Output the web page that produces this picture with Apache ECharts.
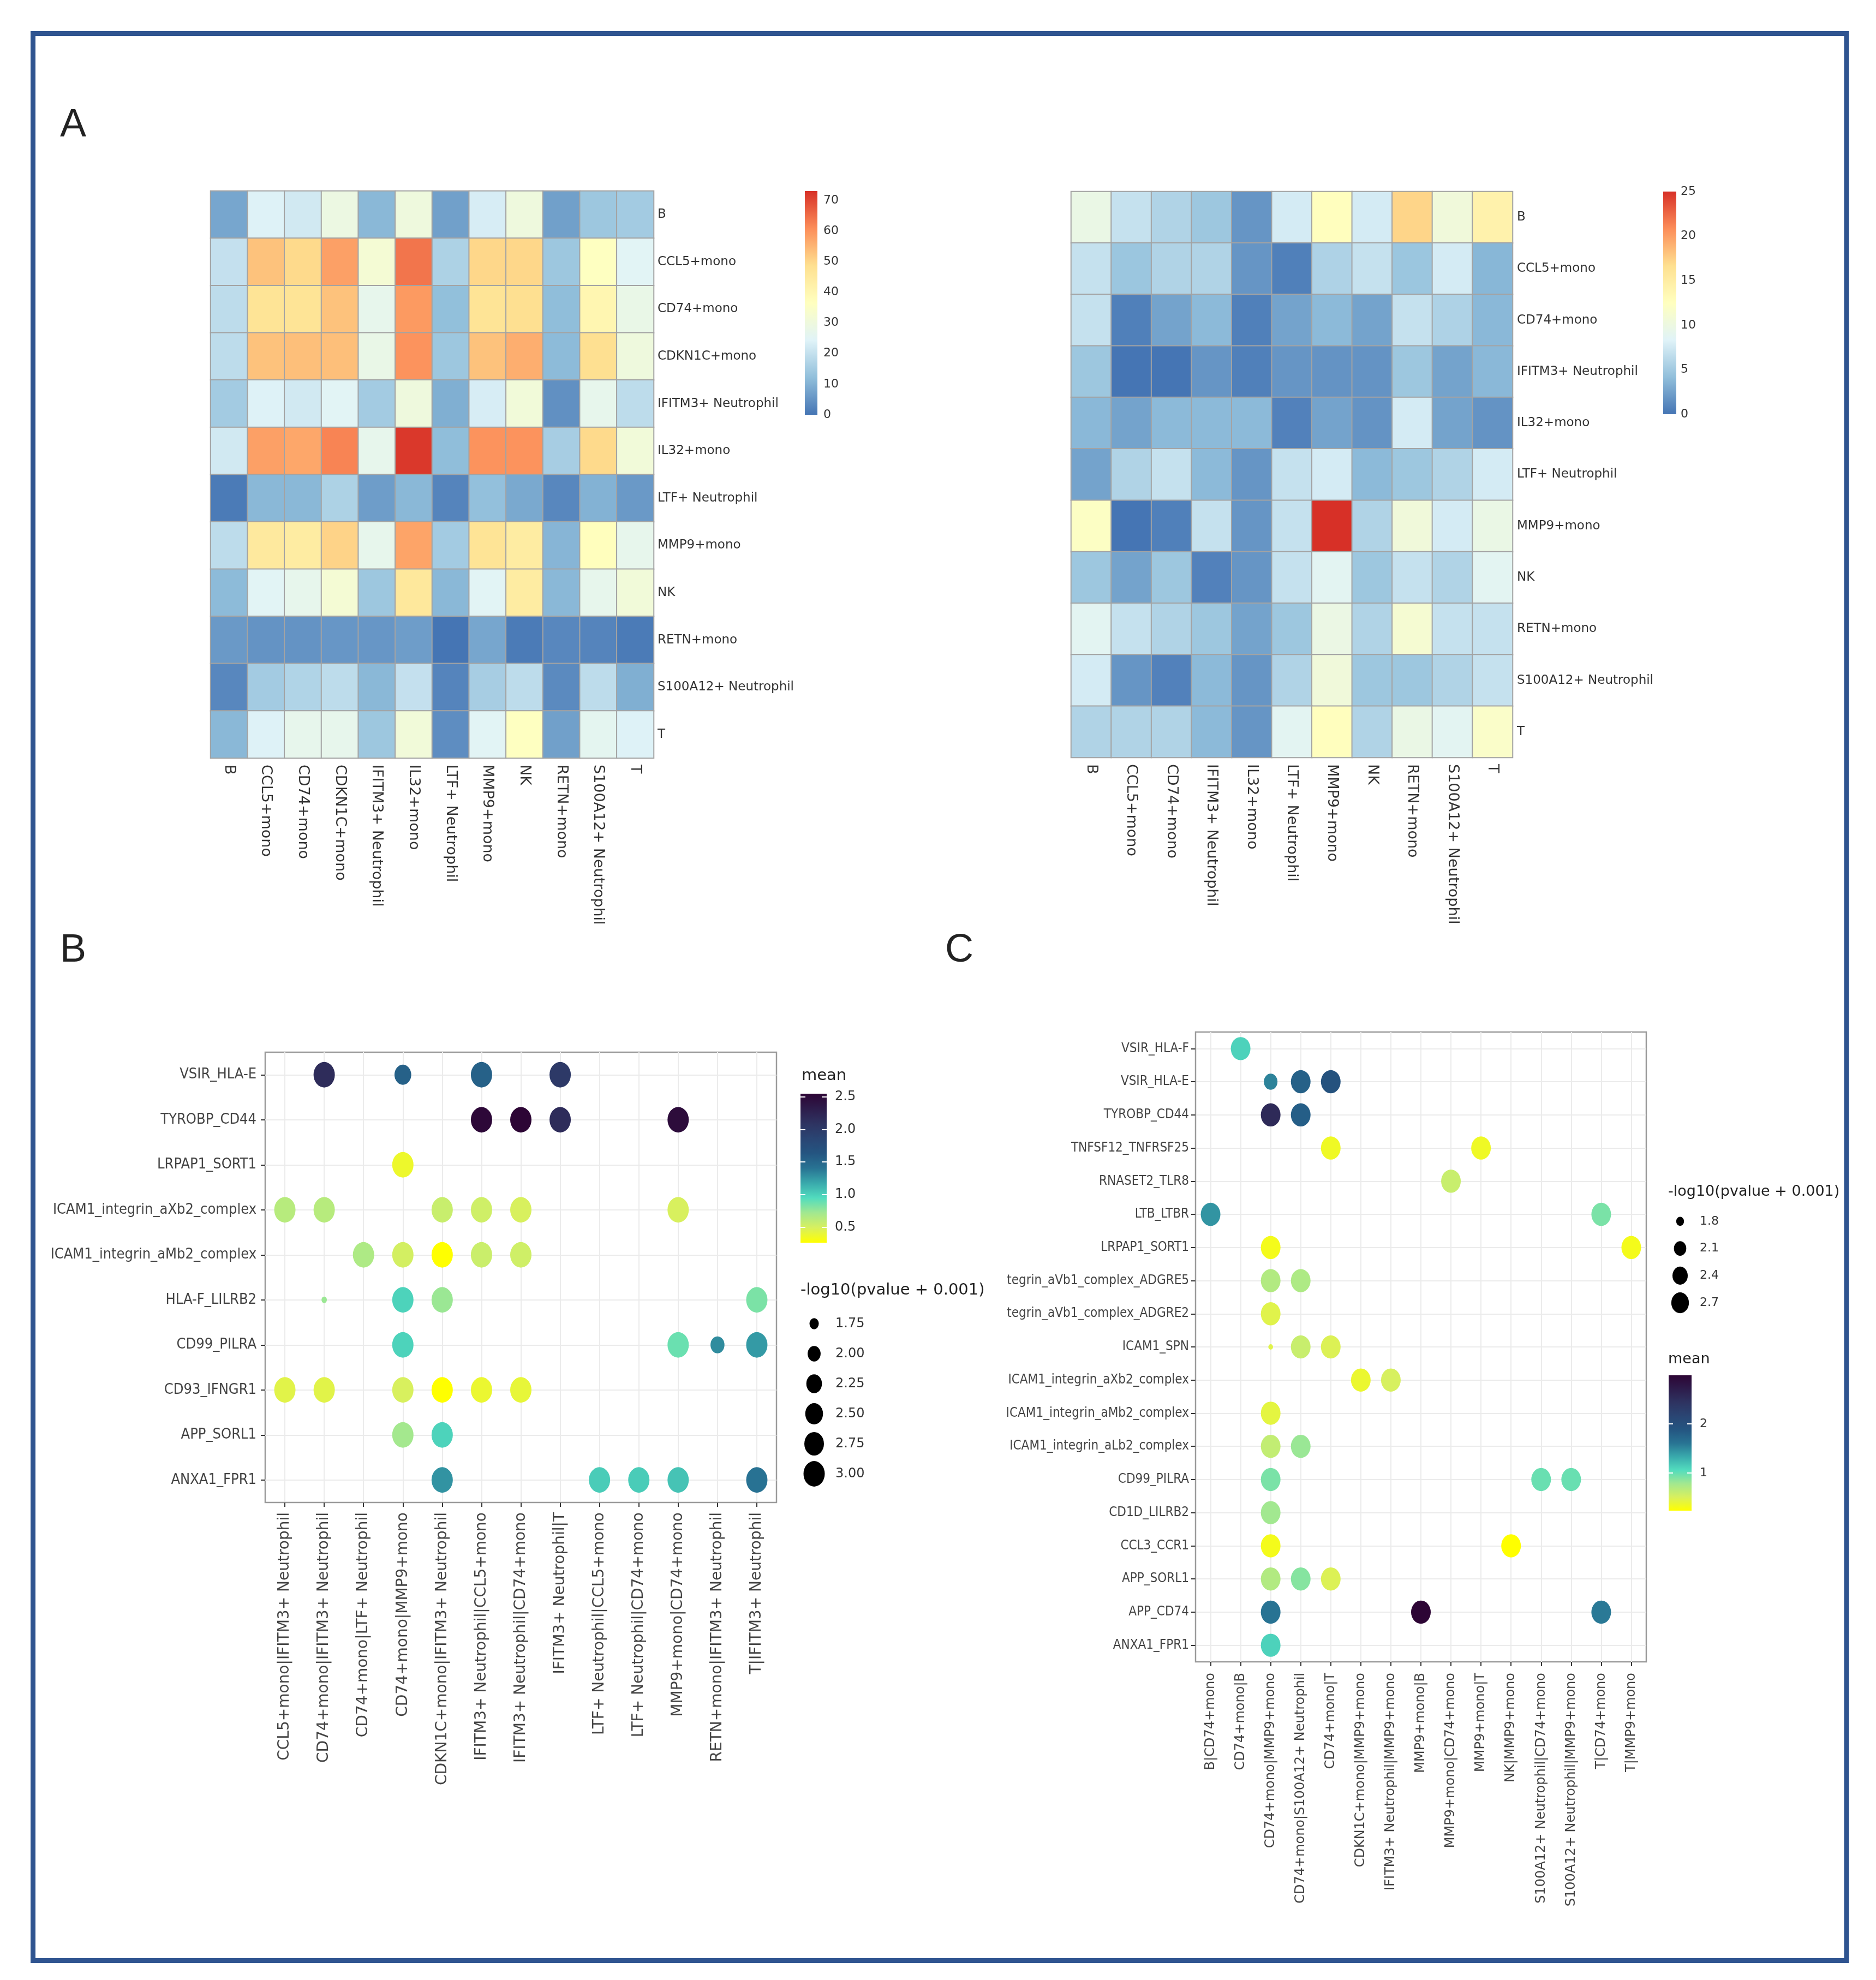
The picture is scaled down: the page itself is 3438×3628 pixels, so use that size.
<!DOCTYPE html>
<html>
<head>
<meta charset="utf-8">
<title>Cell communication</title>
<script src="https://cdn.jsdelivr.net/npm/echarts@6.0.0/dist/echarts.min.js"></script>
<style>
  html, body { margin: 0; padding: 0; background: #fff; }
  #main { width: 3438px; height: 3628px; }
</style>
</head>
<body>
<div id="main"></div>
<script>
// A, left heatmap: number of interactions (rows = source, columns = target)
const hm1Labels = ['B', 'CCL5+mono', 'CD74+mono', 'CDKN1C+mono', 'IFITM3+ Neutrophil', 'IL32+mono',
  'LTF+ Neutrophil', 'MMP9+mono', 'NK', 'RETN+mono', 'S100A12+ Neutrophil', 'T']
const hm1Values = [
  [8, 24, 22, 29, 11, 30, 7, 23, 30, 7, 14, 15],
  [20, 53, 49.5, 58, 32, 64, 16.5, 50, 50, 14, 36, 25],
  [19, 47, 47, 53, 27, 59, 12.3, 47, 48.5, 12, 40, 28],
  [19, 53, 53.5, 53.5, 28, 60, 14, 53, 56, 11.5, 48.5, 30],
  [15, 24, 22, 25, 15, 30, 9.5, 23, 31, 4.5, 27, 19],
  [22, 58, 57, 62, 27, 72, 12, 60, 60, 15.5, 49.5, 31],
  [1, 11, 11, 16.5, 6.5, 11, 2.5, 12.5, 8.5, 3, 10, 6],
  [19, 45, 44, 50.5, 27, 57.5, 15, 47, 44, 10.5, 37, 27],
  [11.5, 25, 27, 32, 14, 45.5, 11, 25, 44, 11, 27, 31],
  [6, 5, 5, 5.5, 5.5, 6.5, 0, 8, 1, 3, 2.5, 1],
  [3, 15, 17, 19, 11, 20, 2.5, 15.5, 19, 3.5, 19, 9.5],
  [11, 24, 27, 27, 14, 31, 4, 25, 36, 7, 26, 24]
]
const hm1Range = [0, 73]
const hm1Ticks = [0, 10, 20, 30, 40, 50, 60, 70]

// A, right heatmap
const hm2Labels = ['B', 'CCL5+mono', 'CD74+mono', 'IFITM3+ Neutrophil', 'IL32+mono', 'LTF+ Neutrophil',
  'MMP9+mono', 'NK', 'RETN+mono', 'S100A12+ Neutrophil', 'T']
const hm2Values = [
  [9.7, 6.9, 5.8, 4.8, 1.8, 7.7, 12.6, 7.7, 17.2, 10.5, 14.2],
  [6.9, 4.7, 5.8, 5.8, 1.8, 0.6, 5.7, 6.9, 4.7, 7.7, 3.7],
  [6.9, 0.6, 2.6, 3.9, 0.6, 2.6, 3.9, 2.6, 6.9, 5.7, 3.8],
  [4.8, 0, 0, 1.8, 0.6, 1.8, 1.7, 1.7, 4.8, 2.6, 3.8],
  [3.8, 2.6, 3.9, 3.9, 3.9, 0.7, 2.6, 1.7, 7.7, 2.6, 1.7],
  [2.6, 5.8, 6.9, 3.9, 1.8, 6.9, 7.7, 3.9, 4.8, 5.8, 7.7],
  [12.1, 0, 0.6, 6.9, 1.8, 6.9, 25, 5.8, 10.5, 7.7, 9.7],
  [4.8, 2.6, 4.8, 0.7, 1.8, 6.9, 8.8, 4.8, 6.9, 5.8, 8.8],
  [8.8, 6.9, 5.8, 4.8, 2.6, 4.8, 9.8, 5.8, 11.1, 6.9, 6.9],
  [7.7, 1.8, 0.7, 3.9, 1.8, 5.8, 10.5, 4.8, 4.8, 5.8, 6.9],
  [5.8, 5.8, 5.8, 3.9, 1.8, 8.8, 12.6, 5.8, 9.7, 8.8, 11.8]
]
const hm2Range = [0, 25]
const hm2Ticks = [0, 5, 10, 15, 20, 25]

// B dot plot: [column index, row index, mean, -log10(pvalue + 0.001)]
const bCols = ['CCL5+mono|IFITM3+ Neutrophil', 'CD74+mono|IFITM3+ Neutrophil', 'CD74+mono|LTF+ Neutrophil',
  'CD74+mono|MMP9+mono', 'CDKN1C+mono|IFITM3+ Neutrophil', 'IFITM3+ Neutrophil|CCL5+mono',
  'IFITM3+ Neutrophil|CD74+mono', 'IFITM3+ Neutrophil|T', 'LTF+ Neutrophil|CCL5+mono',
  'LTF+ Neutrophil|CD74+mono', 'MMP9+mono|CD74+mono', 'RETN+mono|IFITM3+ Neutrophil', 'T|IFITM3+ Neutrophil']
const bPairs = ['VSIR_HLA-E', 'TYROBP_CD44', 'LRPAP1_SORT1', 'ICAM1_integrin_aXb2_complex',
  'ICAM1_integrin_aMb2_complex', 'HLA-F_LILRB2', 'CD99_PILRA', 'CD93_IFNGR1', 'APP_SORL1', 'ANXA1_FPR1']
const bDots = [
  [1, 0, 2.16, 3], [3, 0, 1.54, 2.38], [5, 0, 1.54, 3], [7, 0, 2.02, 3],
  [5, 1, 2.52, 3], [6, 1, 2.55, 3], [7, 1, 2.16, 3], [10, 1, 2.48, 3],
  [3, 2, 0.37, 3],
  [0, 3, 0.63, 3], [1, 3, 0.63, 3], [4, 3, 0.56, 3], [5, 3, 0.53, 3], [6, 3, 0.49, 3], [10, 3, 0.49, 3],
  [2, 4, 0.67, 3], [3, 4, 0.51, 3], [4, 4, 0.26, 3], [5, 4, 0.55, 3], [6, 4, 0.53, 3],
  [1, 5, 0.74, 1.62], [3, 5, 0.99, 3], [4, 5, 0.74, 3], [12, 5, 0.83, 3],
  [3, 6, 0.99, 3], [10, 6, 0.88, 3], [11, 6, 1.3, 2.09], [12, 6, 1.24, 3],
  [0, 7, 0.44, 3], [1, 7, 0.44, 3], [3, 7, 0.49, 3], [4, 7, 0.26, 3], [5, 7, 0.38, 3], [6, 7, 0.4, 3],
  [3, 8, 0.71, 3], [4, 8, 0.99, 3],
  [4, 9, 1.27, 3], [8, 9, 1.02, 3], [9, 9, 1.02, 3], [10, 9, 1.06, 3], [12, 9, 1.41, 3]
]
const bMeanRange = [0.262, 2.547]
const bMeanTicks = [0.5, 1.0, 1.5, 2.0, 2.5]
const bSizeRange = [1.605, 3]
const bSizeTicks = [1.75, 2.00, 2.25, 2.50, 2.75, 3.00]

// C dot plot
const cCols = ['B|CD74+mono', 'CD74+mono|B', 'CD74+mono|MMP9+mono', 'CD74+mono|S100A12+ Neutrophil',
  'CD74+mono|T', 'CDKN1C+mono|MMP9+mono', 'IFITM3+ Neutrophil|MMP9+mono', 'MMP9+mono|B',
  'MMP9+mono|CD74+mono', 'MMP9+mono|T', 'NK|MMP9+mono', 'S100A12+ Neutrophil|CD74+mono',
  'S100A12+ Neutrophil|MMP9+mono', 'T|CD74+mono', 'T|MMP9+mono']
const cPairs = ['VSIR_HLA-F', 'VSIR_HLA-E', 'TYROBP_CD44', 'TNFSF12_TNFRSF25', 'RNASET2_TLR8', 'LTB_LTBR',
  'LRPAP1_SORT1', 'tegrin_aVb1_complex_ADGRE5', 'tegrin_aVb1_complex_ADGRE2', 'ICAM1_SPN',
  'ICAM1_integrin_aXb2_complex', 'ICAM1_integrin_aMb2_complex', 'ICAM1_integrin_aLb2_complex',
  'CD99_PILRA', 'CD1D_LILRB2', 'CCL3_CCR1', 'APP_SORL1', 'APP_CD74', 'ANXA1_FPR1']
const cDots = [
  [1, 0, 1.11, 3],
  [2, 1, 1.53, 2.22], [3, 1, 1.78, 3], [4, 1, 1.94, 3],
  [2, 2, 2.55, 3], [3, 2, 1.8, 3],
  [4, 3, 0.34, 3], [9, 3, 0.34, 3],
  [8, 4, 0.59, 3],
  [0, 5, 1.44, 3], [13, 5, 0.92, 3],
  [2, 6, 0.31, 3], [14, 6, 0.31, 3],
  [2, 7, 0.7, 3], [3, 7, 0.72, 3],
  [2, 8, 0.45, 3],
  [2, 9, 0.45, 1.71], [3, 9, 0.59, 3], [4, 9, 0.48, 3],
  [5, 10, 0.37, 3], [6, 10, 0.51, 3],
  [2, 11, 0.42, 3],
  [2, 12, 0.62, 3], [3, 12, 0.81, 3],
  [2, 13, 0.92, 3], [11, 13, 0.98, 3], [12, 13, 0.98, 3],
  [2, 14, 0.78, 3],
  [2, 15, 0.31, 3], [10, 15, 0.23, 3],
  [2, 16, 0.7, 3], [3, 16, 0.88, 3], [4, 16, 0.48, 3],
  [2, 17, 1.61, 3], [7, 17, 2.99, 3], [13, 17, 1.58, 3],
  [2, 18, 1.11, 3]
]
const cMeanRange = [0.23, 2.99]
const cMeanTicks = [1, 2]
const cSizeRange = [1.7, 3]
const cSizeTicks = [1.8, 2.1, 2.4, 2.7]

const rdylbu = ['#4575B4', '#91BFDB', '#E0F3F8', '#FFFFBF', '#FEE090', '#FC8D59', '#D73027']
const meanPal = ['#FFFF00', '#D8F05E', '#A2E890', '#52DCBE', '#39A9AC', '#287393', '#245581',
  '#2A4573', '#2E3361', '#2D1C4B', '#2D0535']

const hmFont = 'DejaVu Sans'
const ggFont = "'DejaVu Sans Condensed', 'DejaVu Sans'"
const ellipse = 'path://M50,0 A50,50 0 1,1 50,100 A50,50 0 1,1 50,0 Z'

const chart = echarts.init(document.getElementById('main'))

function toCells (values) {
  const out = []
  values.forEach((row, r) => row.forEach((v, c) => out.push([c, r, v])))
  return out
}

// ggplot scale_size (area palette, range 1..6)
function dotSize (v, range, dmax, aspect) {
  const t = Math.max(0, (v - range[0]) / (range[1] - range[0]))
  const d = dmax / 6 + dmax * 5 / 6 * Math.sqrt(t)
  return [d, d * aspect]
}

function gradient (colors) {
  const n = colors.length
  return new echarts.graphic.LinearGradient(0, 0, 0, 1,
    colors.map((c, i) => ({ offset: i / (n - 1), color: colors[n - 1 - i] })))
}

const grids = []
const xAxes = []
const yAxes = []
const series = []
const visualMaps = []

function addGrid (g) {
  grids.push(Object.assign({ outerBoundsMode: 'none', containLabel: false }, g))
  return grids.length - 1
}

function heatmap (g, labels, values, range, labelSize) {
  const gi = addGrid(g)
  xAxes.push({
    gridIndex: gi, type: 'category', data: labels, position: 'bottom',
    axisLine: { show: false }, axisTick: { show: false }, splitLine: { show: false },
    axisLabel: { interval: 0, rotate: -90, margin: 12, fontSize: 27, fontFamily: hmFont, color: '#333' }
  })
  yAxes.push({
    gridIndex: gi, type: 'category', data: labels, inverse: true, position: 'right',
    axisLine: { show: false }, axisTick: { show: false }, splitLine: { show: false },
    axisLabel: { interval: 0, margin: labelSize, fontSize: 23, fontFamily: hmFont, color: '#333' }
  })
  series.push({
    type: 'heatmap', xAxisIndex: xAxes.length - 1, yAxisIndex: yAxes.length - 1,
    data: toCells(values),
    itemStyle: { borderColor: '#a3a3a3', borderWidth: 2 },
    emphasis: { disabled: true }
  })
  visualMaps.push({
    type: 'continuous', show: false, seriesIndex: series.length - 1, dimension: 2,
    min: range[0], max: range[1], inRange: { color: rdylbu }
  })
}

function colorbar (g, range, ticks, colors, opts) {
  const gi = addGrid(g)
  xAxes.push({ gridIndex: gi, type: 'value', min: 0, max: 1, show: false })
  const fmt = opts.fmt || (v => String(v))
  const tick = {
    show: !!opts.tickLen, inside: true, length: opts.tickLen || 0, customValues: ticks,
    lineStyle: { color: '#fff', width: 2 }
  }
  if (opts.tickLen) {
    yAxes.push({
      gridIndex: gi, type: 'value', min: range[0], max: range[1], position: 'left', z: 10,
      axisLine: { show: false }, splitLine: { show: false }, axisLabel: { show: false }, axisTick: tick
    })
  }
  yAxes.push({
    gridIndex: gi, type: 'value', min: range[0], max: range[1], position: 'right', z: 10,
    axisLine: { show: false }, splitLine: { show: false }, axisTick: tick,
    axisLabel: {
      customValues: ticks, margin: opts.margin, fontSize: opts.fontSize, fontFamily: hmFont, color: '#333',
      formatter: v => (ticks.some(t => Math.abs(t - v) < 1e-6) ? fmt(v) : '')
    }
  })
  series.push({
    type: 'custom', xAxisIndex: xAxes.length - 1, yAxisIndex: yAxes.length - 1,
    data: [[range[0], range[1]]], silent: true,
    renderItem: function (params, api) {
      const p0 = api.coord([0, api.value(1)])
      const p1 = api.coord([1, api.value(0)])
      return {
        type: 'rect',
        shape: { x: p0[0], y: p0[1], width: p1[0] - p0[0], height: p1[1] - p0[1] },
        style: { fill: gradient(colors) }
      }
    }
  })
}

function dotplot (g, cols, pairs, dots, meanRange, sizeRange, dmax, aspect, o) {
  const gi = addGrid(Object.assign({ show: true, borderColor: '#9a9a9a', borderWidth: 2.5 }, g))
  const tick = { show: true, alignWithLabel: true, length: 8, lineStyle: { color: '#333', width: 2 } }
  xAxes.push({
    gridIndex: gi, type: 'category', data: cols, boundaryGap: true,
    axisLine: { show: false }, axisTick: tick, splitLine: { show: false },
    axisLabel: { interval: 0, rotate: 90, margin: o.xMargin, fontSize: o.xFont, fontFamily: hmFont, color: '#444' }
  })
  yAxes.push({
    gridIndex: gi, type: 'category', data: pairs, inverse: true, boundaryGap: true,
    axisLine: { show: false }, axisTick: tick, splitLine: { show: false },
    axisLabel: { interval: 0, margin: o.yMargin, fontSize: o.yFont, fontFamily: ggFont, color: '#444' }
  })
  series.push({
    type: 'scatter', xAxisIndex: xAxes.length - 1, yAxisIndex: yAxes.length - 1,
    data: dots, symbol: ellipse,
    symbolSize: val => dotSize(val[3], sizeRange, dmax, aspect),
    itemStyle: { opacity: 1 },
    emphasis: { disabled: true },
    markLine: {
      silent: true, symbol: 'none', z: 1, animation: false,
      label: { show: false },
      lineStyle: { color: '#ebebeb', width: 2, type: 'solid' },
      data: cols.map(c => ({ xAxis: c })).concat(pairs.map(p => ({ yAxis: p })))
    }
  })
  visualMaps.push({
    type: 'continuous', show: false, seriesIndex: series.length - 1, dimension: 2,
    min: meanRange[0], max: meanRange[1], inRange: { color: meanPal }
  })
}

function sizeLegend (g, ticks, labels, sizeRange, dmax, aspect, fontSize, margin) {
  const gi = addGrid(g)
  xAxes.push({ gridIndex: gi, type: 'category', data: [''], show: false })
  yAxes.push({
    gridIndex: gi, type: 'category', data: labels, inverse: true, position: 'right',
    axisLine: { show: false }, axisTick: { show: false }, splitLine: { show: false },
    axisLabel: { interval: 0, margin: margin, fontSize: fontSize, fontFamily: hmFont, color: '#333' }
  })
  series.push({
    type: 'scatter', xAxisIndex: xAxes.length - 1, yAxisIndex: yAxes.length - 1,
    data: ticks.map((v, i) => [0, i, v]), symbol: ellipse,
    symbolSize: val => dotSize(val[2], sizeRange, dmax, aspect),
    itemStyle: { color: '#000', opacity: 1 }, silent: true
  })
}

// panel A
heatmap({ left: 386, top: 350, width: 812, height: 1039 }, hm1Labels, hm1Values, hm1Range, 7)
colorbar({ left: 1475, top: 350, width: 23, height: 410 }, hm1Range, hm1Ticks, rdylbu, { margin: 11, fontSize: 22 })
heatmap({ left: 1963, top: 351, width: 809, height: 1037 }, hm2Labels, hm2Values, hm2Range, 8)
colorbar({ left: 3048, top: 351, width: 24, height: 408 }, hm2Range, hm2Ticks, rdylbu, { margin: 8, fontSize: 22 })

// panel B
dotplot({ left: 486, top: 1928, width: 937, height: 825 }, bCols, bPairs, bDots, bMeanRange, bSizeRange, 39, 1.2,
  { xMargin: 18, xFont: 28, yMargin: 16, yFont: 27 })
colorbar({ left: 1467, top: 2004, width: 48, height: 273 }, bMeanRange, bMeanTicks, meanPal,
  { margin: 15, fontSize: 24, tickLen: 9, fmt: v => v.toFixed(1) })
sizeLegend({ left: 1467, top: 2398, width: 50, height: 330 }, bSizeTicks, bSizeTicks.map(v => v.toFixed(2)),
  bSizeRange, 39, 1.2, 24, 14)

// panel C
dotplot({ left: 2191, top: 1891, width: 826, height: 1154 }, cCols, cPairs, cDots, cMeanRange, cSizeRange, 36, 1.18,
  { xMargin: 20, xFont: 24, yMargin: 12, yFont: 24 })
sizeLegend({ left: 3054, top: 2213, width: 50, height: 199 }, cSizeTicks, cSizeTicks.map(v => v.toFixed(1)),
  cSizeRange, 36, 1.18, 22, 11)
colorbar({ left: 3058, top: 2520, width: 42, height: 248 }, cMeanRange, cMeanTicks, meanPal,
  { margin: 15, fontSize: 22, tickLen: 8 })

function label (text, x, y, size, font, align) {
  return {
    type: 'text', x: x, y: y, silent: true,
    style: { text: text, fontSize: size, fontFamily: font || hmFont, fill: '#222', align: align || 'left', verticalAlign: 'middle' }
  }
}

const option = {
  animation: false,
  backgroundColor: '#fff',
  tooltip: { show: false },
  grid: grids,
  xAxis: xAxes,
  yAxis: yAxes,
  visualMap: visualMaps,
  series: series,
  graphic: [
    {
      type: 'rect', silent: true,
      shape: { x: 60.5, y: 61.5, width: 3323.5, height: 3531 },
      style: { fill: 'none', stroke: '#2F5490', lineWidth: 9 }
    },
    label('A', 134, 230, 72, 'Liberation Sans', 'center'),
    label('B', 134, 1742, 72, 'Liberation Sans', 'center'),
    label('C', 1758, 1742, 72, 'Liberation Sans', 'center'),
    label('mean', 1469, 1971, 29),
    label('-log10(pvalue + 0.001)', 1467, 2364, 29),
    label('-log10(pvalue + 0.001)', 3057, 2184, 27),
    label('mean', 3057, 2491, 27)
  ]
}

chart.setOption(option)
</script>
</body>
</html>
